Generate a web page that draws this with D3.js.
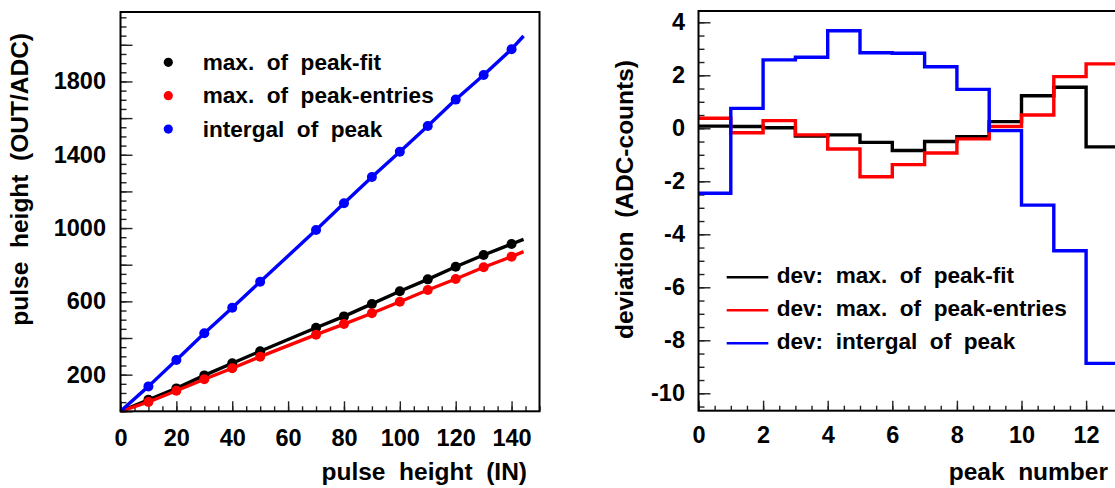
<!DOCTYPE html>
<html>
<head>
    <meta charset="utf-8">
    <style>
        body {
            margin: 0;
            background: #fff;
        }

        svg {
            display: block;
            font-family: 'Liberation Sans', Arial, sans-serif;
            font-weight: bold;
        }

        .tick line {
            stroke: #222;
            stroke-width: 1.4;
        }

        .lbl {
            white-space: pre;
        }
    </style>
</head>
<body>
    <svg width="1115" height="488"></svg>

    <script src="https://d3js.org/d3.v7.min.js"></script>
    <script>
        // left panel: output pulse height vs input pulse height
        let pulseIn = [10, 20, 30, 40, 50, 70, 80, 90, 100, 110, 120, 130, 140];
        let maxPeakFit = [63, 125, 196, 262, 328, 456, 518, 586, 655, 720, 789, 853, 913];
        let maxPeakEntries = [51, 112, 175, 235, 298, 418, 476, 535, 598, 662, 722, 786, 844];
        let integralPeak = [136, 280, 426, 565, 707, 989, 1135, 1279, 1417, 1557, 1701, 1835, 1976];
        let lineRangeIn = [0, 144.3];          // fit lines run from origin to here
        let lineEndOut = [938, 871, 2048];     // fit, entries, integral at line end

        // right panel: deviation per peak number (bins of width 1)
        let devFit = [0.08, 0.07, 0.02, -0.29, -0.25, -0.53, -0.84, -0.5, -0.32, 0.25, 1.23, 1.55, -0.7];
        let devEntries = [0.38, -0.17, 0.29, -0.25, -0.78, -1.83, -1.37, -0.93, -0.4, 0.07, 0.5, 1.95, 2.43];
        let devIntegral = [-2.45, 0.75, 2.58, 2.68, 3.68, 2.85, 2.83, 2.32, 1.47, -0.09, -2.9, -4.62, -8.87];

        let leftYLabels = [200, 600, 1000, 1400, 1800];
        let leftXLabels = [0, 20, 40, 60, 80, 100, 120, 140];
        let rightYLabels = [4, 2, 0, -2, -4, -6, -8, -10];
        let rightXLabels = [0, 2, 4, 6, 8, 10, 12];

        let legendLeft = ["max.  of  peak-fit", "max.  of  peak-entries", "intergal  of  peak"];
        let legendRight = ["dev:  max.  of  peak-fit", "dev:  max.  of  peak-entries", "dev:  intergal  of  peak"];
        let colors = ["#000000", "#ff0000", "#0000ff"];

        let svg = d3.select("svg");
        svg.append("rect").attr("width", 1115).attr("height", 488).attr("fill", "#fff");

        let tickFont = 23.5;
        let titleFont = 24.5;
        let legendFont = 22.6;
        let plain = d => String(d);   // no thousands comma, ascii minus

        // ---------- left panel ----------
        let L = { x0: 120.5, x1: 539.5, y0: 12, y1: 411.3 };

        let xL = d3.scaleLinear().domain([0, 150]).range([L.x0, L.x1]);
        let yL = d3.scaleLinear().domain([0, 2179]).range([L.y1, L.y0]);

        function cleanAxis(g) {
            g.select(".domain").remove();
        }

        // inward ticks
        svg.append("g").attr("transform", `translate(${L.x0},0)`)
            .call(d3.axisRight(yL).tickValues(d3.range(0, 2180, 50)).tickSize(6).tickFormat(""))
            .call(cleanAxis);
        svg.append("g").attr("transform", `translate(${L.x0},0)`)
            .call(d3.axisRight(yL).tickValues(d3.range(0, 2180, 200)).tickSize(12).tickFormat(""))
            .call(cleanAxis);
        svg.append("g").attr("transform", `translate(0,${L.y1})`)
            .call(d3.axisTop(xL).tickValues(d3.range(0, 151, 5)).tickSize(5).tickFormat(""))
            .call(cleanAxis);
        svg.append("g").attr("transform", `translate(0,${L.y1})`)
            .call(d3.axisTop(xL).tickValues(d3.range(0, 151, 20)).tickSize(10).tickFormat(""))
            .call(cleanAxis);

        // tick labels
        svg.append("g").attr("transform", `translate(${L.x0},0)`)
            .call(d3.axisLeft(yL).tickValues(leftYLabels).tickSize(0).tickPadding(14.5).tickFormat(plain))
            .call(cleanAxis)
            .selectAll("text")
            .style("font-size", tickFont + "px").style("font-family", "inherit").attr("fill", "#000");
        svg.append("g").attr("transform", `translate(0,${L.y1})`)
            .call(d3.axisBottom(xL).tickValues(leftXLabels).tickSize(0).tickFormat(plain))
            .call(cleanAxis)
            .selectAll("text")
            .attr("y", 35.2).attr("dy", null)
            .style("font-size", tickFont + "px").style("font-family", "inherit").attr("fill", "#000");

        // lines through origin, the points and on to the line end
        let lineL = d3.line().x(d => xL(d[0])).y(d => yL(d[1]));
        let seriesL = [maxPeakFit, maxPeakEntries, integralPeak];

        seriesL.forEach((s, i) => {
            let pts = [[lineRangeIn[0], 0]].concat(pulseIn.map((x, j) => [x, s[j]]), [[lineRangeIn[1], lineEndOut[i]]]);
            svg.append("path")
                .attr("d", lineL(pts))
                .attr("fill", "none")
                .attr("stroke", colors[i])
                .attr("stroke-width", 3.4)
                .attr("stroke-linejoin", "round");
            svg.selectAll(".pt" + i)
                .data(pulseIn)
                .join("circle")
                .attr("cx", d => xL(d))
                .attr("cy", (d, j) => yL(s[j]))
                .attr("r", 5)
                .attr("fill", colors[i]);
        });

        svg.append("rect")
            .attr("x", L.x0).attr("y", L.y0)
            .attr("width", L.x1 - L.x0).attr("height", L.y1 - L.y0)
            .attr("fill", "none").attr("stroke", "#000").attr("stroke-width", 2);

        // legend (left)
        let legL = svg.append("g");
        legendLeft.forEach((t, i) => {
            let y = 62.3 + i * 33.4;
            legL.append("circle").attr("cx", 168.3).attr("cy", y).attr("r", 4.6).attr("fill", colors[i]);
            legL.append("text").attr("class", "lbl")
                .attr("xml:space", "preserve")
                .attr("x", 202.7).attr("y", y + 7.5)
                .style("font-size", legendFont + "px")
                .text(t);
        });

        // titles (left)
        svg.append("text").attr("class", "lbl")
            .attr("xml:space", "preserve")
            .attr("transform", "translate(28,33) rotate(-90)")
            .attr("text-anchor", "end")
            .style("font-size", titleFont + "px")
            .text("pulse  height  (OUT/ADC)");
        svg.append("text").attr("class", "lbl")
            .attr("xml:space", "preserve")
            .attr("x", 527).attr("y", 480)
            .attr("text-anchor", "end")
            .style("font-size", titleFont + "px")
            .text("pulse  height  (IN)");

        // ---------- right panel ----------
        let R = { x0: 698.5, x1: 698.5 + 13 * 32.3, y0: 11, y1: 410.7 };

        let xR = d3.scaleLinear().domain([0, 13]).range([R.x0, R.x1]);
        let yR = d3.scaleLinear().domain([-10.657, 4.426]).range([R.y1, R.y0]);

        svg.append("g").attr("transform", `translate(${R.x0},0)`)
            .call(d3.axisRight(yR).tickValues(d3.range(-10.5, 4.5, 0.5)).tickSize(6).tickFormat(""))
            .call(cleanAxis);
        svg.append("g").attr("transform", `translate(${R.x0},0)`)
            .call(d3.axisRight(yR).tickValues(d3.range(-10, 4.1, 2)).tickSize(12).tickFormat(""))
            .call(cleanAxis);
        svg.append("g").attr("transform", `translate(0,${R.y1})`)
            .call(d3.axisTop(xR).tickValues(d3.range(0, 13.1, 0.5)).tickSize(5).tickFormat(""))
            .call(cleanAxis);
        svg.append("g").attr("transform", `translate(0,${R.y1})`)
            .call(d3.axisTop(xR).tickValues(d3.range(0, 13.1, 2)).tickSize(10).tickFormat(""))
            .call(cleanAxis);

        svg.append("g").attr("transform", `translate(${R.x0},0)`)
            .call(d3.axisLeft(yR).tickValues(rightYLabels).tickSize(0).tickPadding(13.5).tickFormat(plain))
            .call(cleanAxis)
            .selectAll("text")
            .style("font-size", tickFont + "px").style("font-family", "inherit").attr("fill", "#000");
        svg.append("g").attr("transform", `translate(0,${R.y1})`)
            .call(d3.axisBottom(xR).tickValues(rightXLabels).tickSize(0).tickFormat(plain))
            .call(cleanAxis)
            .selectAll("text")
            .attr("y", 32.8).attr("dy", null)
            .style("font-size", tickFont + "px").style("font-family", "inherit").attr("fill", "#000");

        // step histograms
        let stepLine = d3.line().x(d => xR(d[0])).y(d => yR(d[1])).curve(d3.curveStepAfter);
        let seriesR = [devFit, devEntries, devIntegral];

        seriesR.forEach((s, i) => {
            let pts = s.map((v, j) => [j, v]).concat([[s.length, s[s.length - 1]]]);
            svg.append("path")
                .attr("d", stepLine(pts))
                .attr("fill", "none")
                .attr("stroke", colors[i])
                .attr("stroke-width", 3.4)
                .attr("stroke-linejoin", "miter");
        });

        svg.append("rect")
            .attr("x", R.x0).attr("y", R.y0)
            .attr("width", R.x1 - R.x0).attr("height", R.y1 - R.y0)
            .attr("fill", "none").attr("stroke", "#000").attr("stroke-width", 2);

        // legend (right)
        let legR = svg.append("g");
        legendRight.forEach((t, i) => {
            let y = 277.3 + i * 33;
            legR.append("line")
                .attr("x1", 726.7).attr("x2", 768.3)
                .attr("y1", y).attr("y2", y)
                .attr("stroke", colors[i]).attr("stroke-width", 2.4);
            legR.append("text").attr("class", "lbl")
                .attr("xml:space", "preserve")
                .attr("x", 776.7).attr("y", y + 6)
                .style("font-size", legendFont + "px")
                .text(t);
        });

        svg.append("text").attr("class", "lbl")
            .attr("xml:space", "preserve")
            .attr("transform", "translate(633,60) rotate(-90)")
            .attr("text-anchor", "end")
            .style("font-size", titleFont + "px")
            .text("deviation  (ADC-counts)");
        svg.append("text").attr("class", "lbl")
            .attr("xml:space", "preserve")
            .attr("x", 1108).attr("y", 480)
            .attr("text-anchor", "end")
            .style("font-size", titleFont + "px")
            .text("peak  number");
    </script>
</body>
</html>
